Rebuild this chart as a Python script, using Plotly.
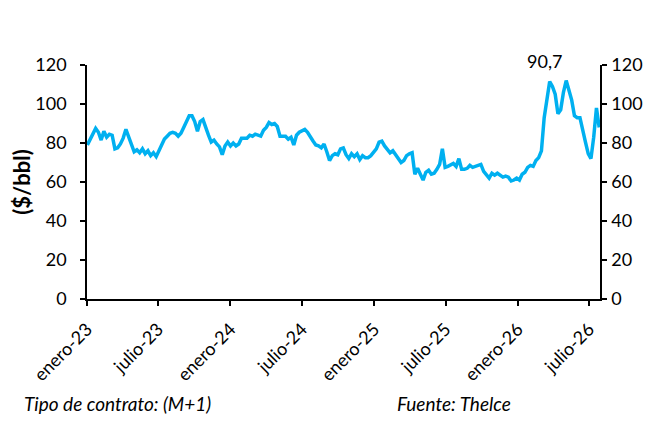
import pandas as pd
import plotly.graph_objects as go

# precio semanal M+1 ($/bbl)
precio = [79, 82, 85, 87.5, 85.5, 81.5, 86, 83, 84.5, 84,
          77, 77.5, 79.5, 82.5, 87, 83.5, 79, 75.5, 76.5, 75,
          77, 74.5, 76, 73.5, 75, 73, 76, 79.5, 82, 83.5,
          85, 85.5, 85, 83.5, 85, 88, 91.5, 94, 94, 91,
          86, 91, 92, 87.5, 84, 80.5, 81.5, 79.5, 78, 74,
          78.5, 80.5, 78.5, 80, 78.5, 79.5, 82.5, 82.5, 82.5, 84,
          83.5, 84.5, 84, 83.5, 86.5, 88, 90.5, 89.5, 90, 88.5,
          83.5, 83.5, 83.5, 82, 83, 79, 84, 85.5, 86.5, 87,
          85.5, 83, 81, 79, 78.5, 77.5, 79.5, 75.5, 71, 73.5,
          74.5, 74, 77, 77.5, 74, 72, 74.5, 73, 74.5, 71.5,
          73.5, 72.5, 72.5, 73.5, 75, 77, 80.5, 81, 78.5, 76.5,
          75, 76, 74, 71.5, 70, 71, 73.5, 74.5, 75, 64,
          67, 64, 61, 65, 66, 64, 64.5, 66.5, 69, 77,
          67.5, 68, 69, 69.5, 68, 72, 66.5, 66.5, 67, 68.5,
          67.5, 68, 68.5, 69, 65.5, 64, 62, 64.5, 63.5, 64.5,
          63.5, 62.5, 63, 62.5, 60.5, 61, 62, 61, 64, 65,
          67.5, 68.5, 68, 71, 72.5, 76, 93, 104, 111.5, 109,
          105, 95, 97, 106, 112, 107, 102, 94, 93, 93,
          86, 80.5, 74.5, 72, 83, 98, 88]

fechas = pd.date_range("2023-01-02", periods=len(precio), freq="7D")

tick_fechas = ["2023-01-01", "2023-07-01", "2024-01-01", "2024-07-01",
               "2025-01-01", "2025-07-01", "2026-01-01", "2026-07-01"]
tick_textos = ["enero-23", "julio-23", "enero-24", "julio-24",
               "enero-25", "julio-25", "enero-26", "julio-26"]

FONT = "Lato"
W, H = 640, 411
L, R, T, B = 79, 48, 57, 120

fig = go.Figure()
fig.add_trace(go.Scatter(x=fechas, y=precio, mode="lines",
                         line=dict(color="#00B0F0", width=3.5),
                         showlegend=False, hoverinfo="x+y"))
# copia invisible para que se dibuje el eje derecho
fig.add_trace(go.Scatter(x=fechas, y=precio, mode="lines", yaxis="y2",
                         line=dict(color="rgba(0,0,0,0)", width=0),
                         showlegend=False, hoverinfo="skip"))

eje = dict(showgrid=False, zeroline=False, showline=True,
           linecolor="black", linewidth=1.5, ticks="outside",
           ticklen=5, tickcolor="black", tickwidth=1.5, automargin=False)

fig.update_layout(
    width=W, height=H,
    margin=dict(l=L, r=R, t=T, b=B),
    paper_bgcolor="white", plot_bgcolor="white",
    font=dict(family=FONT, size=18, color="black"),
    xaxis=dict(range=["2023-01-01", "2026-07-29"],
               tickvals=tick_fechas, ticktext=tick_textos,
               tickangle=-45, ticklabelstandoff=6, **eje),
    yaxis=dict(range=[0, 120], dtick=20, ticklabelstandoff=10,
               title=dict(text="<b>($/bbl)</b>", standoff=10), **eje),
    yaxis2=dict(range=[0, 120], dtick=20, overlaying="y", side="right",
                ticklabelstandoff=1, **eje),
)

fig.add_annotation(x="2026-03-09", y=120, text="90,7", showarrow=False,
                   yanchor="middle", yshift=4, font=dict(size=18))

# pie de grafico, posiciones en pixeles de la figura
pw = W - L - R
ph = H - T - B
for px, texto in [(14, "Tipo de contrato: (M+1)"), (387, "Fuente: Thelce")]:
    fig.add_annotation(x=(px - L) / pw, y=(H - B - 409) / ph,
                       xref="paper", yref="paper", xanchor="left",
                       yanchor="bottom", text="<i>" + texto + "</i>",
                       showarrow=False, font=dict(size=19))

fig.write_html("out.html")
